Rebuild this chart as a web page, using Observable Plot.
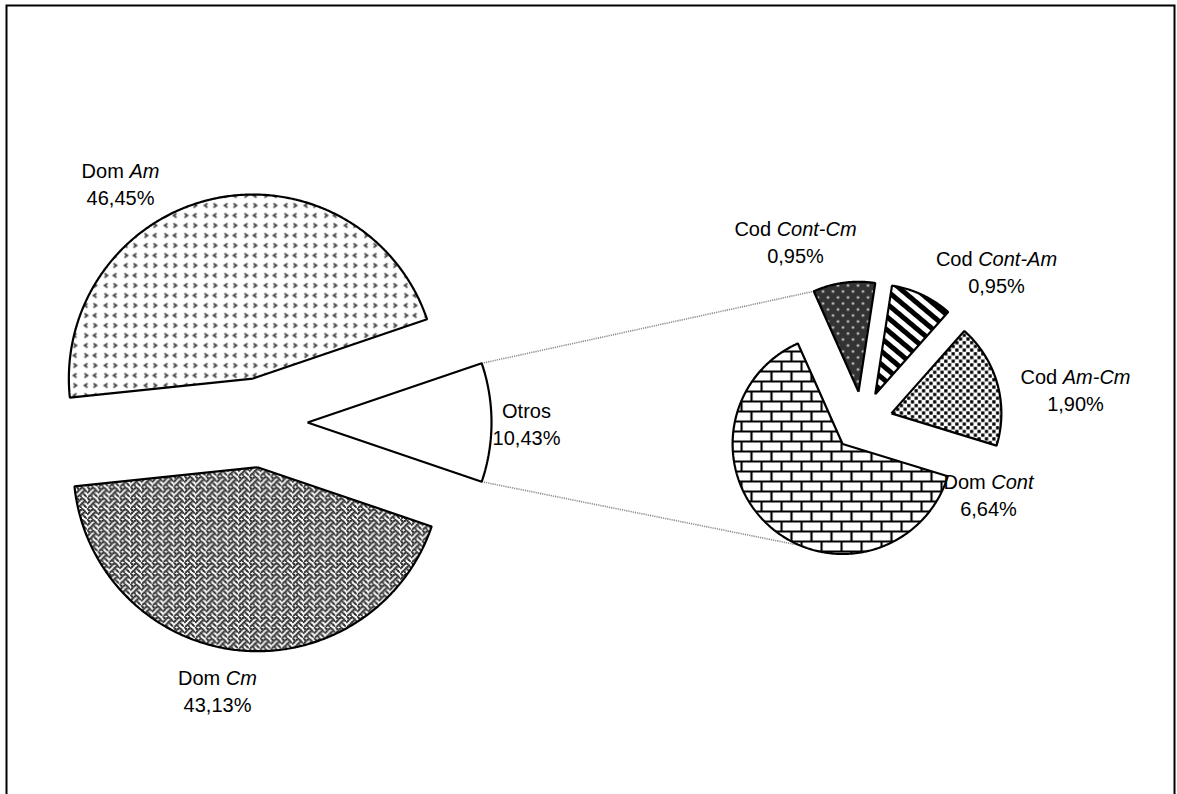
<!DOCTYPE html>
<html><head><meta charset="utf-8">
<script src="https://cdn.jsdelivr.net/npm/d3@7"></script>
<script src="https://cdn.jsdelivr.net/npm/@observablehq/plot@0.6"></script>
<style>html,body{margin:0;padding:0;background:#fff}</style>
</head><body><div id="chart"></div>
<script>
// ---------- data ----------
const mainCategories = ["Otros", "Dom Am", "Dom Cm"];
const mainValues = [10.43, 46.45, 43.13];
const mainPercentLabels = ["10,43%", "46,45%", "43,13%"];
const subCategories = ["Cod Cont-Cm", "Cod Cont-Am", "Cod Am-Cm", "Dom Cont"];
const subValues = [0.95, 0.95, 1.90, 6.64];
const subPercentLabels = ["0,95%", "0,95%", "1,90%", "6,64%"];

// ---------- layout / style ----------
const W = 1177, H = 794;
const mainPie = {cx: 262, cy: 422, r: 184, explode: 45};
const subPie = {cx: 862, cy: 421, r: 110, explode: 30};
const subStartDeg = 114;
const mainFills = ["#ffffff", "url(#pAm)", "url(#pCm)"];
const subFills = ["url(#pContCm)", "url(#pContAm)", "url(#pAmCm)", "url(#pBrick)"];
const mainLabelOffsets = [[264, -5], [-142, -245], [-45, 262]];
const subLabelOffsets = [[-67, -186], [134, -156], [213, -38], [126, 67]];
const lineGap = 27;
const fontSize = 20;

function buildSlices(names, values, pct, fills, offsets, pie, startDeg, dir) {
  const total = d3.sum(values);
  let a = startDeg;
  return names.map((name, i) => {
    const span = values[i] / total * 360;
    const a0 = a, a1 = a + dir * span;
    a = a1;
    const mid = (a0 + a1) / 2 * Math.PI / 180;
    const ax = pie.cx + pie.explode * Math.cos(mid);
    const ay = pie.cy - pie.explode * Math.sin(mid);
    const n = Math.max(12, Math.ceil(span * 2));
    const pts = [[ax, ay]];
    for (let k = 0; k <= n; k++) {
      const t = (a0 + (a1 - a0) * k / n) * Math.PI / 180;
      pts.push([ax + pie.r * Math.cos(t), ay - pie.r * Math.sin(t)]);
    }
    pts.push([ax, ay]);
    const pt = (deg) => [ax + pie.r * Math.cos(deg * Math.PI / 180), ay - pie.r * Math.sin(deg * Math.PI / 180)];
    return {name, value: values[i], pct: pct[i], fill: fills[i], a0, a1, ax, ay, pts, pt,
      lx: pie.cx + offsets[i][0], ly: pie.cy + offsets[i][1] - 0.32 * fontSize};
  });
}

const mainStart = -mainValues[0] / d3.sum(mainValues) * 180;
const mainSlices = buildSlices(mainCategories, mainValues, mainPercentLabels, mainFills, mainLabelOffsets, mainPie, mainStart, 1);
const subSlices = buildSlices(subCategories, subValues, subPercentLabels, subFills, subLabelOffsets, subPie, subStartDeg, -1);

// connectors from "Otros" to the secondary pie
const otros = mainSlices[0];
const topA = otros.pt(otros.a1), botA = otros.pt(otros.a0);
const firstSub = subSlices[0];
const topB = firstSub.pt(firstSub.a0);
const lastSub = subSlices[subSlices.length - 1];
const botB = lastSub.pt(-90);
const connectors = [
  {x1: topA[0], y1: topA[1], x2: topB[0], y2: topB[1]},
  {x1: botA[0], y1: botA[1], x2: botB[0], y2: botB[1]}
];

const allSlices = mainSlices.concat(subSlices);

const sliceMarks = allSlices.map(s => Plot.line(s.pts, {
  x: d => d[0], y: d => d[1], fill: s.fill, stroke: "#000", strokeWidth: 2.2,
  strokeLinejoin: "miter", strokeLinecap: "butt"
}));

const svg = Plot.plot({
  width: W, height: H, margin: 0,
  x: {domain: [0, W], range: [0, W], axis: null},
  y: {domain: [0, H], range: [0, H], axis: null},
  style: {fontFamily: "'Liberation Sans', Arial, sans-serif", fontSize: fontSize + "px", background: "#fff", color: "#000"},
  marks: [
    Plot.link(connectors, {x1: "x1", y1: "y1", x2: "x2", y2: "y2", stroke: "#8c8c8c", strokeWidth: 1.6, strokeDasharray: "1.2,1"}),
    ...sliceMarks,
    Plot.text(allSlices, {x: "lx", y: "ly", text: "name", fontSize, fill: "#000", textAnchor: "middle", lineAnchor: "middle"}),
    Plot.text(allSlices, {x: "lx", y: d => d.ly + lineGap, text: "pct", fontSize, fill: "#000", textAnchor: "middle", lineAnchor: "middle"}),
    Plot.frame({stroke: "#000", strokeWidth: 2, insetLeft: 6, insetTop: 5, insetRight: 3, insetBottom: -20})
  ]
});

// pattern definitions
const ns = "http://www.w3.org/2000/svg";
const defs = document.createElementNS(ns, "defs");
const weaveBits = ["10001000","01010100","00100010","01000101","10001000","00010100","00100010","01010001"];
let weaveRects = "";
weaveBits.forEach((row, r) => row.split("").forEach((b, c) => { if (b === "1") weaveRects += `<rect x="${c - 0.25}" y="${r - 0.25}" width="1.5" height="1.5" fill="#2a2a2a"/>`; }));
defs.innerHTML = `
<pattern id="pAm" patternUnits="userSpaceOnUse" width="20" height="20">
  <rect width="20" height="20" fill="#fff"/>
  <path d="M7,3 L4,5 L7,7 M13,3 L16,5 L13,7 M16,13 L13,15 L16,17 M4,13 L7,15 L4,17" fill="none" stroke="#3a3a3a" stroke-width="1.6"/>
</pattern>
<pattern id="pCm" patternUnits="userSpaceOnUse" width="8" height="8" patternTransform="scale(1.35)">
  <rect width="8" height="8" fill="#fff"/>${weaveRects}
</pattern>
<pattern id="pBrick" patternUnits="userSpaceOnUse" width="20" height="20">
  <rect width="20" height="20" fill="#fff"/>
  <path d="M0,1 H20 M0,11 H20 M1,0 V11 M11,11 V20" stroke="#000" stroke-width="2.2" fill="none"/>
</pattern>
<pattern id="pContCm" patternUnits="userSpaceOnUse" width="10" height="12">
  <rect width="10" height="12" fill="#333"/>
  <circle cx="2.5" cy="3" r="1.2" fill="#ddd"/><circle cx="7.5" cy="9" r="1.2" fill="#ddd"/>
</pattern>
<pattern id="pContAm" patternUnits="userSpaceOnUse" width="10" height="10" patternTransform="rotate(40)">
  <rect width="10" height="10" fill="#fff"/><rect width="10" height="5" fill="#000"/>
</pattern>
<pattern id="pAmCm" patternUnits="userSpaceOnUse" width="7.4" height="7.4">
  <rect width="7.4" height="7.4" fill="#fff"/>
  <rect x="0.2" y="0.2" width="3.2" height="3.2" fill="#000"/><rect x="3.9" y="3.9" width="3.2" height="3.2" fill="#000"/>
</pattern>`;
svg.insertBefore(defs, svg.firstChild);

// italicise the second part of each category name
const nameSet = new Set(allSlices.map(s => s.name));
svg.querySelectorAll("text").forEach(t => {
  const s = t.textContent;
  if (!nameSet.has(s)) return;
  const i = s.indexOf(" ");
  if (i < 0) return;
  t.textContent = "";
  t.appendChild(document.createTextNode(s.slice(0, i + 1)));
  const ts = document.createElementNS(ns, "tspan");
  ts.setAttribute("font-style", "italic");
  ts.textContent = s.slice(i + 1);
  t.appendChild(ts);
});

document.getElementById("chart").appendChild(svg);
</script>
</body></html>
